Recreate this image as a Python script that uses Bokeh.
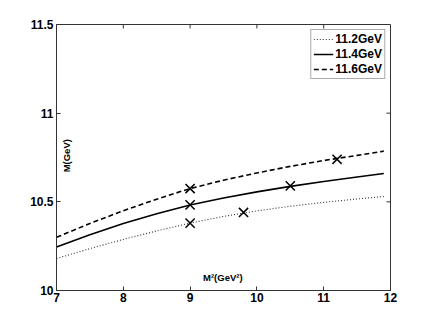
import math
from bokeh.plotting import figure
from bokeh.models import Legend, LegendItem, Range1d, FixedTicker
from bokeh.core.properties import value
from bokeh.embed import file_html
from bokeh.resources import INLINE

# curve abscissae (M^2 in GeV^2)
m2 = [7.0, 7.5, 8.0, 8.5, 9.0, 9.5, 10.0, 10.5, 11.0, 11.5, 11.9]
# curves labelled by threshold
m_112 = [10.18, 10.236, 10.288, 10.336, 10.38, 10.418, 10.449, 10.475, 10.497, 10.516, 10.53]
m_114 = [10.245, 10.315, 10.378, 10.433, 10.482, 10.522, 10.556, 10.587, 10.615, 10.64, 10.66]
m_116 = [10.30, 10.378, 10.450, 10.515, 10.575, 10.622, 10.663, 10.700, 10.733, 10.762, 10.786]
series_labels = ["11.2GeV", "11.4GeV", "11.6GeV"]

# cross markers
pts_x = [9.0, 9.0, 9.0, 9.8, 10.5, 11.2]
pts_y = [10.575, 10.483, 10.38, 10.44, 10.59, 10.74]

x_ticks = [7, 8, 9, 10, 11, 12]
y_ticks = [10, 10.5, 11, 11.5]

FONT = "Liberation Sans"
X0, X1, Y0, Y1 = 7, 12, 10, 11.5

p = figure(width=431, height=327, output_backend="svg", toolbar_location=None,
           x_range=Range1d(X0, X1), y_range=Range1d(Y0, Y1),
           min_border_left=56, min_border_right=41, min_border_top=24, min_border_bottom=37)
p.xgrid.visible = False
p.ygrid.visible = False
p.outline_line_color = "#333333"
p.background_fill_color = "white"
p.border_fill_color = "white"

r1 = p.line(m2, m_112, line_color="#333333", line_width=1.1, line_dash="1 2")
r2 = p.line(m2, m_114, line_color="black", line_width=1.6)
r3 = p.line(m2, m_116, line_color="black", line_width=1.6, line_dash="5 3")
p.scatter(pts_x, pts_y, marker="x", size=13, line_color="black", line_width=1.5)

# mirrored inward ticks on top and right edges (half of each dash is clipped by the frame)
p.scatter(x=x_ticks[1:-1], y=[Y1] * (len(x_ticks) - 2), marker="dash", angle=math.pi / 2,
          size=8, line_color="#333333", line_width=1)
p.scatter(x=[X1] * (len(y_ticks) - 2), y=y_ticks[1:-1], marker="dash",
          size=8, line_color="#333333", line_width=1)

p.text(x=[7.15], y=[10.76], text=["M(GeV)"], angle=math.pi / 2,
       text_align="center", text_baseline="middle", text_font=value(FONT),
       text_font_style="bold", text_font_size="9.5px", text_color="black")
p.text(x=[9.49], y=[10.073], text=["M\u00b2(GeV\u00b2)"],
       text_align="center", text_baseline="middle", text_font=value(FONT),
       text_font_style="bold", text_font_size="9.5px", text_color="black")

for ax, ticks in ((p.xaxis[0], x_ticks), (p.yaxis[0], y_ticks)):
    ax.ticker = FixedTicker(ticks=ticks)
    ax.major_tick_in = 4
    ax.major_tick_out = 0
    ax.minor_tick_in = 0
    ax.minor_tick_out = 0
    ax.axis_line_color = "#333333"
    ax.major_tick_line_color = "#333333"
    ax.major_label_text_font = FONT
    ax.major_label_text_font_style = "bold"
    ax.major_label_text_font_size = "12px"
    ax.major_label_text_color = "black"
p.yaxis[0].major_label_standoff = 3
p.xaxis[0].major_label_standoff = 2

legend = Legend(items=[LegendItem(label=series_labels[0], renderers=[r1]),
                       LegendItem(label=series_labels[1], renderers=[r2]),
                       LegendItem(label=series_labels[2], renderers=[r3])],
                location="top_right")
legend.margin = 5
legend.padding = 2
legend.spacing = 1
legend.label_standoff = 2
legend.glyph_width = 20
legend.glyph_height = 14
legend.label_height = 14
legend.label_text_font = FONT
legend.label_text_font_style = "bold"
legend.label_text_font_size = "12px"
legend.label_text_color = "black"
legend.border_line_color = "#555555"
legend.border_line_width = 1
legend.background_fill_color = "white"
legend.background_fill_alpha = 1
p.add_layout(legend)

open("out.html", "w").write(file_html(p, INLINE))
